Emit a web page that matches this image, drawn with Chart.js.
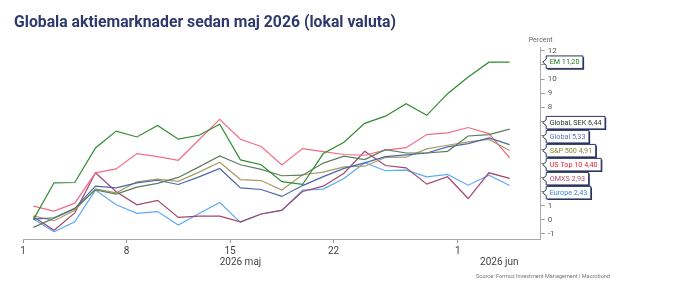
<!DOCTYPE html>
<html><head><meta charset="utf-8">
<script src="https://cdn.jsdelivr.net/npm/chart.js@4.4.1/dist/chart.umd.min.js"></script>
<style>html,body{margin:0;padding:0;background:#fff;overflow:hidden}#wrap{position:relative;width:673px;height:286px}</style>
</head><body><div id="wrap"><canvas id="c" width="673" height="286"></canvas></div>
<script>
// ---- data ----
const tickPositions = [0, 5, 10, 15, 21];          // weekday index of tick
const tickLabels = ['1', '8', '15', '22', '1'];
const monthLabels = ['2026 maj', '2026 jun'];
const monthCenters = [10.5, 23];
const yTicks = [-1,0,1,2,3,4,5,6,7,8,9,10,11,12];
const seriesNames = ['EM', 'Global, SEK', 'Global', 'S&P 500', 'US Top 10', 'OMXS', 'Europe'];
const em       = [0.0, 2.62, 2.64, 5.1, 6.3, 5.88, 6.7, 5.72, 6.0, 6.78, 4.25, 3.9, 2.7, 2.5, 4.7, 5.5, 6.85, 7.36, 8.25, 7.42, 8.96, 10.14, 11.2, 11.2];
const globalSek= [-0.55, 0.1, 0.78, 2.12, 1.81, 2.31, 2.58, 3.0, 3.75, 4.53, 3.9, 3.57, 3.12, 3.16, 4.02, 4.52, 4.27, 4.98, 4.74, 4.74, 4.86, 5.95, 6.05, 6.44];
const global   = [0.04, 0.13, 0.8, 2.38, 2.26, 2.61, 2.8, 2.5, 3.04, 3.64, 2.26, 2.14, 1.65, 2.42, 3.06, 3.64, 4.04, 4.48, 4.6, 4.74, 5.17, 5.41, 5.81, 5.33];
const sp500    = [0.27, -0.08, 0.67, 2.19, 1.9, 2.69, 2.88, 2.72, 3.38, 4.08, 2.85, 2.78, 2.1, 3.19, 3.38, 3.75, 3.8, 4.42, 4.44, 5.03, 5.29, 5.53, 5.7, 4.91];
const usTop10  = [0.96, 0.6, 1.17, 3.33, 3.61, 4.7, 4.48, 4.22, 5.68, 7.14, 5.72, 5.2, 3.88, 5.05, 4.84, 4.63, 4.58, 4.94, 5.12, 6.05, 6.17, 6.55, 6.12, 4.40];
const omxs     = [0.2, -0.75, 0.48, 3.33, 1.98, 1.05, 1.37, 0.16, 0.25, 0.25, -0.16, 0.4, 0.67, 2.0, 2.38, 3.3, 4.86, 3.85, 3.68, 2.52, 3.05, 1.5, 3.33, 2.93];
const europe   = [0.04, -0.87, -0.16, 2.1, 1.05, 0.44, 0.57, -0.38, 0.44, 1.22, -0.2, 0.4, 0.65, 2.1, 2.17, 2.93, 4.05, 3.48, 3.52, 3.04, 3.22, 2.45, 3.16, 2.43];
const lastLabels = ['11,20', '6,44', '5,33', '4,91', '4,40', '2,93', '2,43'];

const allSeries = [em, globalSek, global, sp500, usTop10, omxs, europe];
const lineColors = ['#2f8c2f', '#5e7c5e', '#4b66a8', '#a89c66', '#f26e85', '#a2466f', '#5cabf5'];
const textColors = ['#1f7a1f', '#333333', '#5a78b8', '#8a8a3a', '#e82030', '#b05070', '#3a86d8'];
const FONT = 'Roboto, "Liberation Sans", sans-serif';

const datasets = allSeries.map((vals, s) => ({
  label: seriesNames[s],
  data: vals.map((v, i) => ({ x: i + 0.5, y: v })),
  borderColor: lineColors[s],
  borderWidth: 1.2,
  pointRadius: 0,
  tension: 0,
  fill: false
}));

function drawScaledText(ctx, text, x, y, font, color, targetW, align) {
  ctx.save();
  ctx.font = font;
  ctx.fillStyle = color;
  ctx.textBaseline = 'alphabetic';
  const w = ctx.measureText(text).width;
  const sx = targetW ? targetW / w : 1;
  ctx.translate(x, y);
  ctx.scale(sx, 1);
  ctx.textAlign = align || 'left';
  ctx.fillText(text, 0, 0);
  ctx.restore();
}

const decor = {
  id: 'decor',
  afterDraw(chart) {
    const ctx = chart.ctx;
    const xs = chart.scales.x, ys = chart.scales.y;
    // title
    drawScaledText(ctx, 'Globala aktiemarknader sedan maj 2026 (lokal valuta)', 14, 27,
      'bold 17px ' + FONT, '#2e3a6e', 382, 'left');
    // Percent
    ctx.save();
    ctx.font = '7px ' + FONT; ctx.fillStyle = '#666'; ctx.textAlign = 'center'; ctx.textBaseline = 'middle';
    ctx.fillText('Percent', xs.right, 40);
    // month labels
    ctx.font = '10px ' + FONT; ctx.fillStyle = '#444';
    monthLabels.forEach((m, i) => ctx.fillText(m, xs.getPixelForValue(monthCenters[i]), 262));
    ctx.restore();
    // source
    drawScaledText(ctx, 'Source: Formuz Investment Management | Macrobond', 610, 278,
      '6px ' + FONT, '#777', 134, 'right');

    // callouts
    const gap = 14;
    const items = allSeries.map((vals, s) => ({ s, d: ys.getPixelForValue(vals[vals.length - 1]) }))
      .sort((a, b) => a.d - b.d);
    const clusters = [];
    for (const it of items) {
      clusters.push({ items: [it], sum: it.d });
      while (clusters.length > 1) {
        const c = clusters[clusters.length - 1], p = clusters[clusters.length - 2];
        const pTop = p.sum / p.items.length - (p.items.length - 1) * gap / 2;
        const cTop = c.sum / c.items.length - (c.items.length - 1) * gap / 2;
        if (pTop + p.items.length * gap > cTop) { p.items.push(...c.items); p.sum += c.sum; clusters.pop(); }
        else break;
      }
    }
    ctx.save();
    ctx.font = '7.2px ' + FONT;
    ctx.textBaseline = 'middle';
    ctx.textAlign = 'left';
    clusters.forEach(c => {
      const top = c.sum / c.items.length - (c.items.length - 1) * gap / 2;
      c.items.forEach((it, j) => {
        const cy = top + j * gap;
        const txt = seriesNames[it.s] + ' ' + lastLabels[it.s];
        const w = ctx.measureText(txt).width + 7;
        const x0 = xs.right + 5.5, x1 = x0 + w, h = 12.5;
        const y0 = cy - h / 2, y1 = cy + h / 2;
        const path = () => {
          ctx.beginPath();
          ctx.moveTo(x0, y0); ctx.lineTo(x1, y0); ctx.lineTo(x1, y1); ctx.lineTo(x0, y1);
          ctx.lineTo(x0, cy + 3); ctx.lineTo(x0 - 3.5, cy); ctx.lineTo(x0, cy - 3); ctx.closePath();
        };
        ctx.save(); ctx.translate(1.2, 1.2); path(); ctx.fillStyle = '#2a3562'; ctx.fill(); ctx.restore();
        path(); ctx.fillStyle = '#fff'; ctx.fill();
        ctx.lineWidth = 1; ctx.strokeStyle = '#2a3562'; ctx.stroke();
        ctx.fillStyle = textColors[it.s];
        ctx.fillText(txt, x0 + 3.5, cy + 0.5);
      });
    });
    ctx.restore();
  }
};

new Chart(document.getElementById('c'), {
  type: 'line',
  data: { datasets },
  options: {
    responsive: false, animation: false, events: [],
    layout: { padding: { left: 23, top: 47, right: 0, bottom: 0 } },
    plugins: { legend: { display: false }, tooltip: { enabled: false }, title: { display: false } },
    scales: {
      x: {
        type: 'linear', position: 'bottom', min: 0, max: 25,
        afterBuildTicks: s => { s.ticks = tickPositions.map(v => ({ value: v })); },
        afterFit: s => { s.height = 47; s.paddingLeft = 0; s.paddingRight = 0; },
        ticks: { callback: (v, i) => tickLabels[i], font: { size: 10, family: FONT }, color: '#444',
                 maxRotation: 0, autoSkip: false, padding: 2 },
        grid: { drawOnChartArea: false, drawTicks: true, tickLength: 4, color: '#999' },
        border: { color: '#aaa', width: 1 }
      },
      y: {
        type: 'linear', position: 'right', min: -1.38, max: 12.28,
        afterBuildTicks: s => { s.ticks = yTicks.map(v => ({ value: v })); },
        afterFit: s => { s.width = 132.3; },
        ticks: { font: { size: 8, family: FONT }, color: '#555', padding: 3 },
        grid: { drawOnChartArea: false, drawTicks: true, tickLength: 4, color: '#999' },
        border: { color: '#aaa', width: 1 }
      }
    }
  },
  plugins: [decor]
});
</script></body></html>
